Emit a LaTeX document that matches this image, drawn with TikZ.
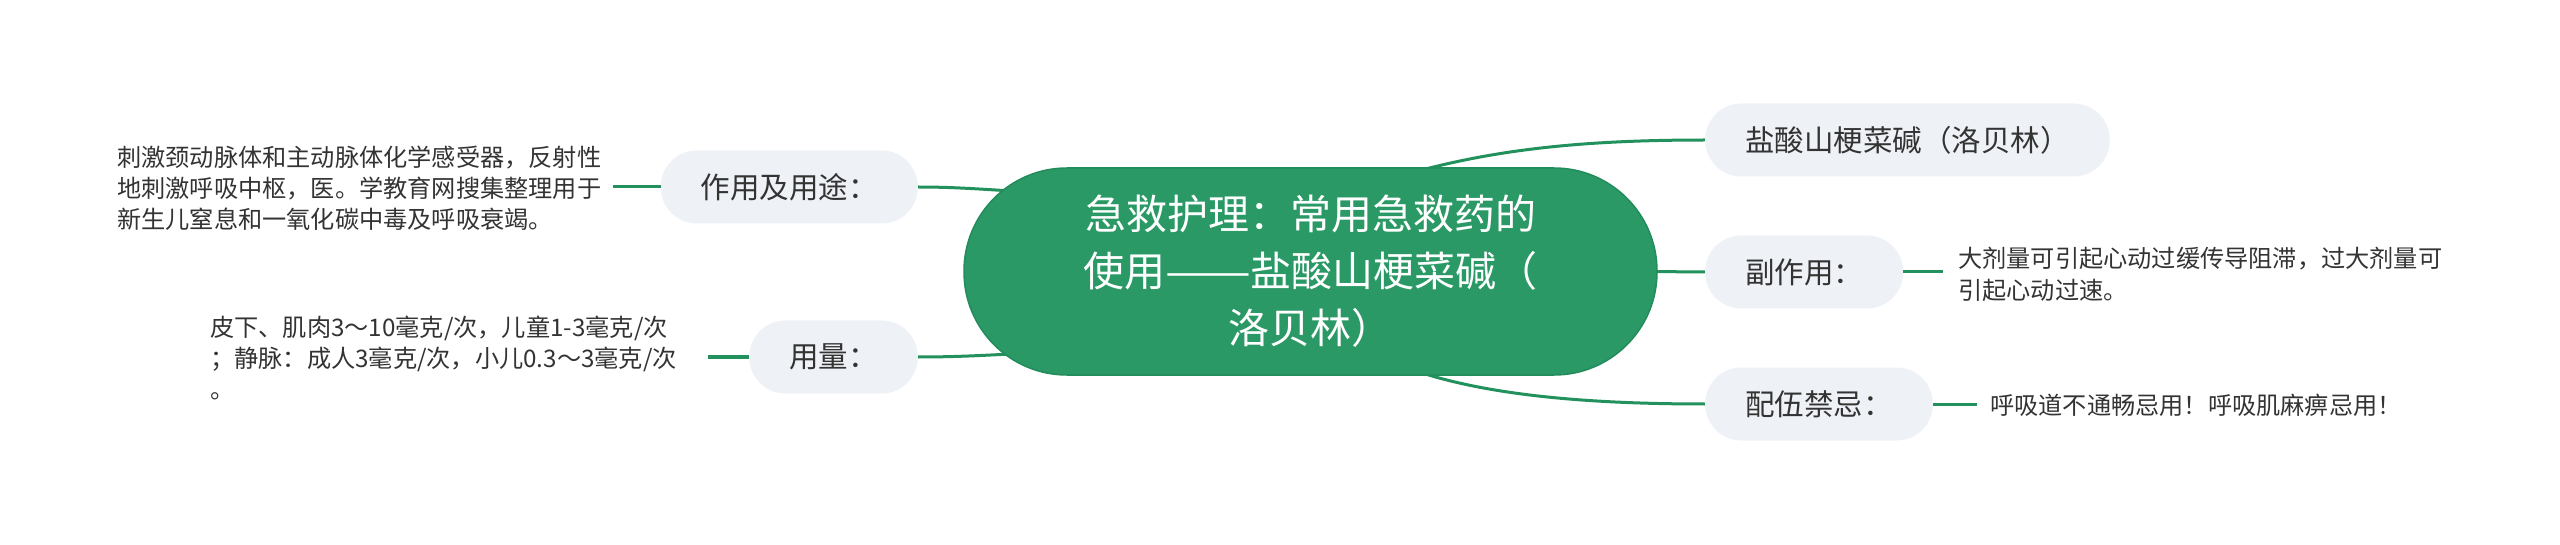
\documentclass[tikz,border=0pt]{standalone}
\usepackage{fontspec}
\usepackage{graphicx}
\setmainfont{Noto Sans CJK SC}
\usetikzlibrary{calc}
\pgfdeclarelayer{bg}
\pgfsetlayers{bg,main}
\definecolor{cgreen}{HTML}{2A9966}
\definecolor{cedge}{HTML}{238C5C}
\definecolor{cline}{HTML}{23915D}
\definecolor{subfill}{HTML}{EEF1F5}
\definecolor{txt}{HTML}{333333}
\tikzset{
  central/.style={fill=cgreen, draw=cedge, line width=1.5pt, rounded corners=103pt,
    minimum width=693pt, minimum height=207pt, text=white, align=center, inner sep=0pt,
    font=\fontsize{41pt}{57pt}\selectfont},
  subnode/.style={fill=subfill, rounded corners=36pt, minimum height=73pt, inner xsep=40pt,
    inner ysep=0pt, text=txt, font=\fontsize{29.5pt}{36pt}\selectfont},
  leaf/.style={inner sep=0pt, align=left, text=txt, font=\fontsize{24.2pt}{31pt}\selectfont},
  conn/.style={draw=cline, line width=3pt},
}
\begin{document}
\begin{tikzpicture}[x=1pt,y=-1pt]
\useasboundingbox (0,0) rectangle (2560,545);
\node[central] (c) at (1310.5,271.5) {急救护理：常用急救药的\\使用\scalebox{1.25}[1]{——}盐酸山梗菜碱（\\洛贝林）};
% right side
\node[subnode, anchor=west] (r1) at (1705,140) {盐酸山梗菜碱（洛贝林）};
\node[subnode, anchor=west] (r2) at (1705,272) {副作用：};
\node[subnode, anchor=west] (r3) at (1705,404) {配伍禁忌：};
\node[leaf, anchor=west, font=\fontsize{24.2pt}{32pt}\selectfont] (l2) at (1958,274) {大剂量可引起心动过缓传导阻滞，过大剂量可\\引起心动过速。};
\node[leaf, anchor=west] (l3) at (1990,405) {呼吸道不通畅忌用！呼吸肌麻痹忌用！};
% left side
\node[subnode, anchor=east] (s1) at (918,187) {作用及用途：};
\node[subnode, anchor=east] (s2) at (918,357) {用量：};
\node[leaf, anchor=west] (k1) at (117,188) {刺激颈动脉体和主动脉体化学感受器，反射性\\地刺激呼吸中枢，医。学教育网搜集整理用于\\新生儿窒息和一氧化碳中毒及呼吸衰竭。};
\node[leaf, anchor=west] (k2) at (210,358) {皮下、肌肉3～10毫克/次，儿童1-3毫克/次\\；静脉：成人3毫克/次，小儿0.3～3毫克/次\\。};
% connector anchor points
\coordinate (ct) at ($(c.north)+(114,2)$);
\coordinate (cb) at ($(c.south)+(114,-2)$);
\coordinate (cr) at ($(c.east)+(-10,0)$);
\coordinate (cl1) at (1030,192);
\coordinate (cl2) at (1030,353);
\coordinate (l2in) at (1943,272);
\coordinate (l3in) at (1977,404);
\coordinate (k1in) at (613,187);
\coordinate (k2in) at (708,357);
\begin{pgfonlayer}{bg}
\draw[conn] (ct) .. controls (1500,150) and (1580,140) .. (r1.west);
\draw[conn] (cr) -- (r2.west);
\draw[conn] (cb) .. controls (1490,394) and (1580,404) .. (r3.west);
\draw[conn] (s1.east) .. controls (960,187) and (990,190) .. (cl1);
\draw[conn] (s2.east) .. controls (960,357) and (990,355) .. (cl2);
\end{pgfonlayer}
\draw[conn] (r2.east) -- (l2in);
\draw[conn] (r3.east) -- (l3in);
\draw[conn] (k1in) -- (s1.west);
\draw[conn] (k2in) -- (s2.west);
\end{tikzpicture}
\end{document}
